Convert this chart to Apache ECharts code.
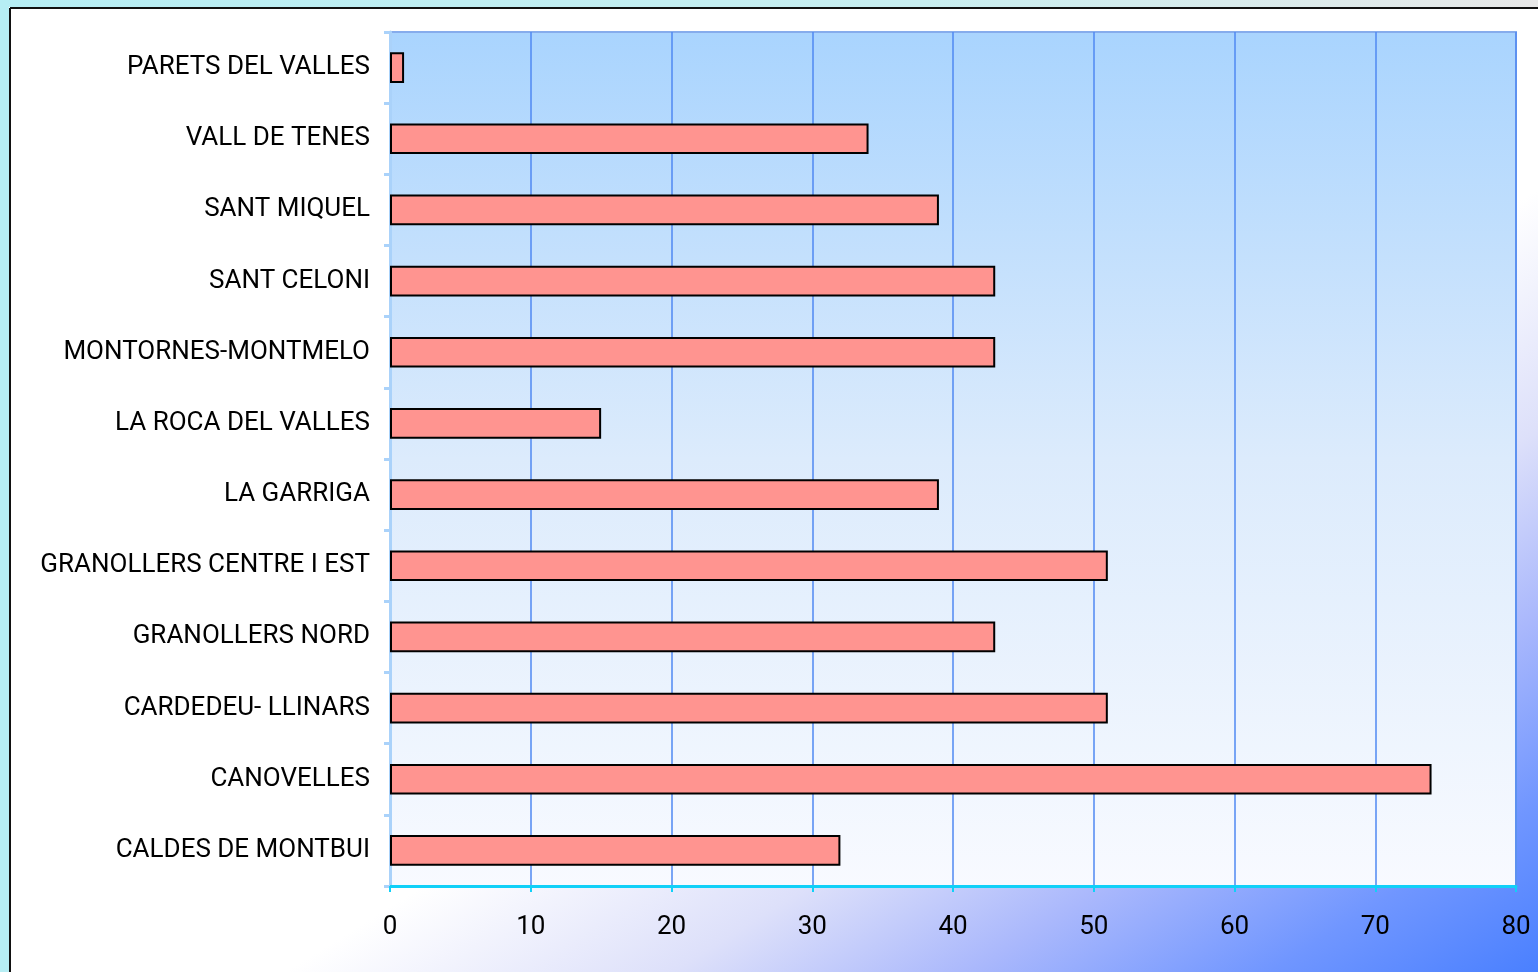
<!DOCTYPE html>
<html>
<head>
<meta charset="utf-8">
<style>
  html, body { margin: 0; padding: 0; }
  #chart { width: 1538px; height: 972px; }
</style>
<script src="https://cdn.jsdelivr.net/npm/echarts@6/dist/echarts.min.js"></script>
</head>
<body>
<div id="chart"></div>
<script>
// categories, top to bottom as in the picture
var categories = [
  'PARETS DEL VALLES',
  'VALL DE TENES',
  'SANT MIQUEL',
  'SANT CELONI',
  'MONTORNES-MONTMELO',
  'LA ROCA DEL VALLES',
  'LA GARRIGA',
  'GRANOLLERS CENTRE I EST',
  'GRANOLLERS NORD',
  'CARDEDEU- LLINARS',
  'CANOVELLES',
  'CALDES DE MONTBUI'
];
var values = [1, 34, 39, 43, 43, 15, 39, 51, 43, 51, 74, 32];
var xMin = 0, xMax = 80, xStep = 10;

var font = 'Roboto, Liberation Sans, Arial, sans-serif';
var chart = echarts.init(document.getElementById('chart'));

var options = {
  animation: false,
  backgroundColor: {
    type: 'linear', x: 0.435, y: -0.43, x2: 1, y2: 1,
    colorStops: [
      { offset: 0, color: '#ffffff' },
      { offset: 0.595, color: '#ffffff' },
      { offset: 0.72, color: '#dde0fa' },
      { offset: 0.816, color: '#aab8fc' },
      { offset: 0.913, color: '#7096ff' },
      { offset: 1, color: '#4a80ff' }
    ]
  },
  graphic: [
    // slide edge outside the frame
    { type: 'rect', shape: { x: 0, y: 0, width: 9, height: 972 }, style: { fill: '#b6eef4' }, z: 0 },
    { type: 'rect', shape: { x: 0, y: 0, width: 1538, height: 7 },
      style: { fill: new echarts.graphic.LinearGradient(0, 0, 1, 0, [
        { offset: 0, color: '#b6eef4' }, { offset: 0.6, color: '#c8eef0' }, { offset: 1, color: '#e8e8e8' }
      ]) }, z: 0 },
    { type: 'line', shape: { x1: 10, y1: 8, x2: 1538, y2: 8 }, style: { stroke: '#111', lineWidth: 2 }, z: 1 },
    { type: 'line', shape: { x1: 10, y1: 8, x2: 10, y2: 972 }, style: { stroke: '#111', lineWidth: 2 }, z: 1 }
  ],
  grid: {
    left: 390, right: 22, top: 32, bottom: 86,
    show: true,
    borderColor: '#86acec',
    borderWidth: 2,
    backgroundColor: {
      type: 'linear', x: 0, y: 0, x2: 0, y2: 1,
      colorStops: [
        { offset: 0, color: '#a9d4fe' },
        { offset: 0.5, color: '#dcebfc' },
        { offset: 1, color: '#f8faff' }
      ]
    }
  },
  xAxis: {
    type: 'value',
    min: xMin, max: xMax, interval: xStep,
    axisLine: { show: true, lineStyle: { color: '#10d0f8', width: 3 } },
    axisTick: { show: true, length: 6, lineStyle: { color: '#10d0f8', width: 2 } },
    axisLabel: { color: '#000', fontSize: 26, fontFamily: font, margin: 28 },
    splitLine: { show: true, lineStyle: { color: '#4f88f2', width: 1.5 } }
  },
  yAxis: {
    type: 'category',
    data: categories,
    inverse: true,
    axisLine: { show: true, lineStyle: { color: '#aad2fa', width: 3 } },
    axisTick: { show: true, length: 6, lineStyle: { color: '#aad2fa', width: 3 } },
    axisLabel: { color: '#000', fontSize: 26, fontFamily: font, margin: 20 },
    splitLine: { show: false }
  },
  series: [{
    type: 'bar',
    data: values,
    barWidth: '43%',
    itemStyle: { color: '#ff9490', borderColor: '#000', borderWidth: 2 }
  }]
};

chart.setOption(options);
window.addEventListener('resize', function () { chart.resize(); });
</script>
</body>
</html>
